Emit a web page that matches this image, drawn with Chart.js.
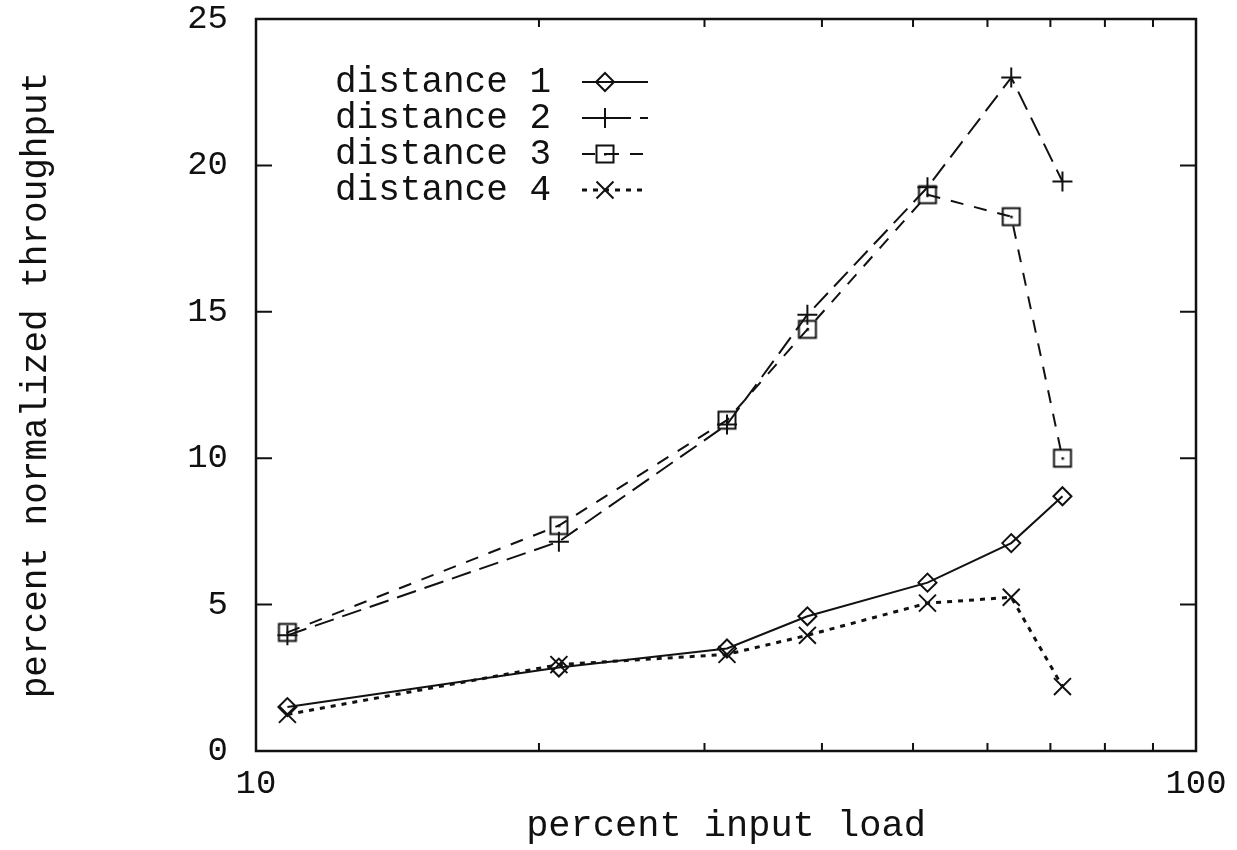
<!DOCTYPE html>
<html>
<head>
<meta charset="utf-8">
<script src="https://cdn.jsdelivr.net/npm/chart.js@4.4.1/dist/chart.umd.min.js"></script>
<style>
html, body { margin: 0; padding: 0; background: #fff; }
</style>
</head>
<body>
<canvas id="myChart" width="1237" height="850"></canvas>
<script>
// percent input load (x, log scale) shared by all series
const loads = [10.8, 21.0, 31.7, 38.6, 51.8, 63.6, 72.1];
const dist1 = [1.5, 2.85, 3.5, 4.6, 5.75, 7.1, 8.7];
const dist2 = [3.95, 7.15, 11.15, 14.9, 19.25, 23.0, 19.45];
const dist3 = [4.05, 7.7, 11.3, 14.4, 19.0, 18.25, 10.0];
const dist4 = [1.25, 2.95, 3.3, 3.95, 5.05, 5.25, 2.2];
const seriesNames = ['distance 1', 'distance 2', 'distance 3', 'distance 4'];
const xTickLabels = [10, 100];
const xMinorTicks = [20, 30, 40, 50, 60, 70, 80, 90];
const yTickLabels = [0, 5, 10, 15, 20, 25];

const ink = '#111';
const mono = '"Liberation Mono", "Courier New", monospace';

// square with a dot in the middle, like the gnuplot point
function dotSquare() {
    const c = document.createElement('canvas');
    c.width = 24; c.height = 24;
    const g = c.getContext('2d');
    g.strokeStyle = ink;
    g.lineWidth = 2;
    g.strokeRect(3.5, 3.5, 17, 17);
    g.fillStyle = ink;
    g.fillRect(11, 11, 2.5, 2.5);
    return c;
}
const squareImg = dotSquare();

function toPoints(ys) {
    return loads.map((x, i) => ({x: x, y: ys[i]}));
}

function lineSet(label, ys, dash, width, style, radius) {
    return {
        label: label,
        data: toPoints(ys),
        borderColor: ink,
        borderWidth: width,
        borderDash: dash,
        tension: 0,
        fill: false,
        pointStyle: style,
        pointRadius: radius,
        pointBorderWidth: 2,
        pointBorderColor: ink,
        pointBackgroundColor: 'rgba(0,0,0,0)'
    };
}

const frameTicks = {
    id: 'frameTicks',
    beforeDatasetsDraw(chart) {
        const ctx = chart.ctx;
        const a = chart.chartArea;
        const xs = chart.scales.x, ys = chart.scales.y;
        ctx.save();
        ctx.strokeStyle = ink;
        ctx.lineWidth = 2;
        ctx.beginPath();
        yTickLabels.forEach(v => {
            const y = ys.getPixelForValue(v);
            ctx.moveTo(a.left, y); ctx.lineTo(a.left + 16, y);
            ctx.moveTo(a.right, y); ctx.lineTo(a.right - 16, y);
        });
        xMinorTicks.forEach(v => {
            const x = xs.getPixelForValue(v);
            ctx.moveTo(x, a.bottom); ctx.lineTo(x, a.bottom - 8);
            ctx.moveTo(x, a.top); ctx.lineTo(x, a.top + 8);
        });
        ctx.stroke();
        ctx.lineWidth = 2.5;
        ctx.strokeRect(a.left, a.top, a.right - a.left, a.bottom - a.top);
        ctx.restore();
    }
};

const keyBox = {
    id: 'keyBox',
    afterDraw(chart) {
        const ctx = chart.ctx;
        ctx.save();
        ctx.font = '36px ' + mono;
        ctx.textBaseline = 'middle';
        chart.data.datasets.forEach((ds, i) => {
            const y = 82 + i * 36;
            ctx.fillStyle = ink;
            ctx.fillText(ds.label, 335, y);
            ctx.strokeStyle = ink;
            ctx.lineWidth = ds.borderWidth;
            ctx.setLineDash(ds.borderDash);
            ctx.beginPath();
            ctx.moveTo(582, y); ctx.lineTo(648, y);
            ctx.stroke();
            ctx.setLineDash([]);
            ctx.fillStyle = 'rgba(0,0,0,0)';
            ctx.lineWidth = ds.pointBorderWidth;
            Chart.helpers.drawPoint(ctx, {
                pointStyle: ds.pointStyle,
                radius: ds.pointRadius,
                borderWidth: ds.pointBorderWidth,
                rotation: 0
            }, 605, y);
        });
        ctx.restore();
    }
};

new Chart('myChart', {
    type: 'line',
    data: {
        datasets: [
            lineSet(seriesNames[0], dist1, [], 2, 'rectRot', 9),
            lineSet(seriesNames[1], dist2, [20, 9], 2, 'cross', 10),
            lineSet(seriesNames[2], dist3, [13, 11], 2, squareImg, 12),
            lineSet(seriesNames[3], dist4, [5, 6], 3, 'crossRot', 12)
        ]
    },
    options: {
        responsive: false,
        animation: false,
        layout: {padding: {top: 19, right: 41, left: 0, bottom: 0}},
        plugins: {
            legend: {display: false},
            tooltip: {enabled: false}
        },
        scales: {
            x: {
                type: 'logarithmic',
                min: 10,
                max: 100,
                afterBuildTicks: s => { s.ticks = xTickLabels.map(v => ({value: v})); },
                afterFit: s => {
                    s.height = 99;
                    s.paddingLeft = 0;
                    s.paddingRight = 0;
                },
                ticks: {
                    callback: v => String(v),
                    autoSkip: false,
                    maxRotation: 0,
                    padding: 13,
                    color: ink,
                    font: {family: mono, size: 34}
                },
                grid: {display: false, drawTicks: false},
                border: {display: false},
                title: {
                    display: true,
                    text: 'percent input load',
                    color: ink,
                    font: {family: mono, size: 37},
                    padding: {top: 0, bottom: 2}
                }
            },
            y: {
                min: 0,
                max: 25,
                afterBuildTicks: s => { s.ticks = yTickLabels.map(v => ({value: v})); },
                afterFit: s => {
                    s.width = 256;
                    s.paddingTop = 0;
                    s.paddingBottom = 0;
                },
                ticks: {
                    padding: 28,
                    color: ink,
                    font: {family: mono, size: 34}
                },
                grid: {display: false, drawTicks: false},
                border: {display: false},
                title: {
                    display: true,
                    text: 'percent normalized throughput',
                    color: ink,
                    font: {family: mono, size: 36},
                    padding: {top: 15, bottom: 0}
                }
            }
        }
    },
    plugins: [frameTicks, keyBox]
});
</script>
</body>
</html>
